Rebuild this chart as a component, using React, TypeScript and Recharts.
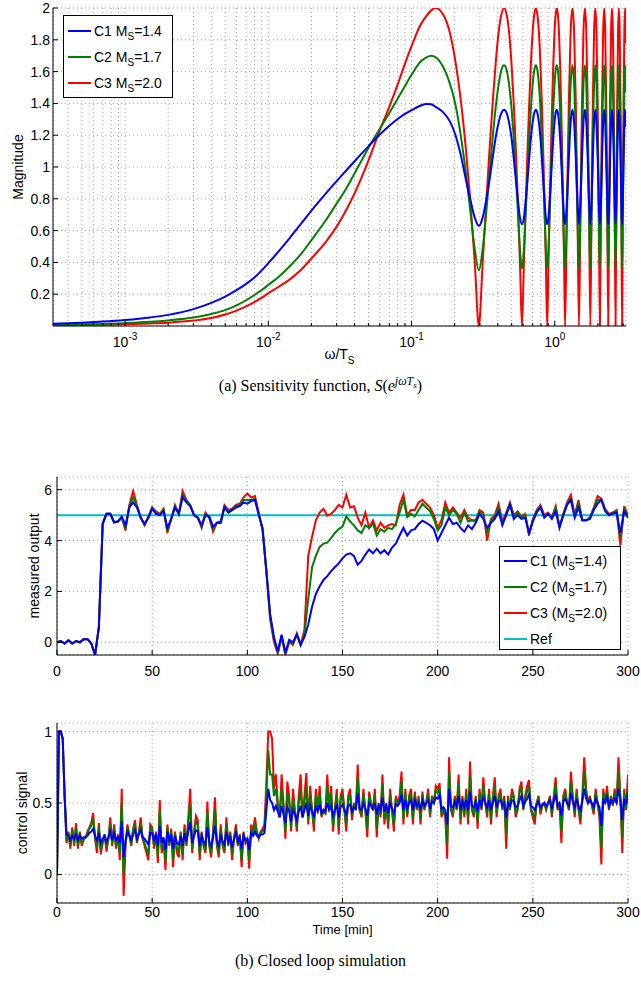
import React from 'react';
import { LineChart, Line, XAxis, YAxis, CartesianGrid, ReferenceLine, Legend } from 'recharts';

const FONT = '"Liberation Sans", Arial, Helvetica, sans-serif';
const SERIF = '"Liberation Serif", "Times New Roman", serif';
const BLUE = '#0000ff';
const GREEN = '#008000';
const RED = '#ff0000';
const CYAN = '#00bfbf';
const GRID = '#a8a8a8';

// ---------- (a) Sensitivity function ----------
const omega = [
  0.000314, 0.0005, 0.0007, 0.001, 0.0015, 0.002, 0.003, 0.004, 0.005, 0.006,
  0.007, 0.008, 0.009, 0.01, 0.012, 0.014, 0.017, 0.02, 0.025, 0.03, 0.035,
  0.04, 0.05, 0.06, 0.07, 0.08, 0.09, 0.1, 0.115, 0.127, 0.137,
  0.1475,
  0.1659, 0.1844, 0.2028, 0.2213, 0.2397, 0.2581, 0.2766, 0.295,
  0.3134, 0.3319, 0.3503, 0.3688, 0.3872, 0.4056, 0.4241, 0.4425,
  0.4609, 0.4794, 0.4978, 0.5163, 0.5347, 0.5531, 0.5716, 0.59,
  0.6084, 0.6269, 0.6453, 0.6638, 0.6822, 0.7006, 0.7191, 0.7375,
  0.7559, 0.7744, 0.7928, 0.8113, 0.8297, 0.8481, 0.8666, 0.885,
  0.9034, 0.9219, 0.9403, 0.9588, 0.9772, 0.9956, 1.0141, 1.0325,
  1.0509, 1.0694, 1.0878, 1.1063, 1.1247, 1.1431, 1.1616, 1.18,
  1.2169, 1.2538, 1.2906, 1.3275, 1.3644, 1.4013, 1.4381, 1.475,
  1.5119, 1.5488, 1.5856, 1.6225, 1.6594, 1.6963, 1.7331, 1.77,
  1.8069, 1.8438, 1.8806, 1.9175, 1.9544, 1.9913, 2.0281, 2.065,
  2.1019, 2.1388, 2.1756, 2.2125, 2.2494, 2.2863, 2.3231, 2.36,
  2.3969, 2.4338, 2.4706, 2.5075, 2.5444, 2.5813, 2.6181, 2.655,
  2.6919, 2.7288, 2.7656, 2.8025, 2.8394, 2.8763, 2.9131, 2.95,
  2.9869, 3.0238, 3.0606, 3.0975, 3.1344, 3.1416,
];

const sensC1 = [
  0.014, 0.021, 0.028, 0.038, 0.054, 0.07, 0.106, 0.145, 0.185, 0.225,
  0.265, 0.305, 0.35, 0.395, 0.477, 0.55, 0.645, 0.726, 0.83, 0.911, 0.978,
  1.036, 1.13, 1.204, 1.26, 1.302, 1.334, 1.357, 1.385, 1.397, 1.395,
  1.378,
  1.345, 1.29, 1.2, 1.07, 0.92, 0.79, 0.68, 0.63,
  0.68, 0.79, 0.92, 1.06, 1.19, 1.28, 1.34, 1.36,
  1.34, 1.28, 1.19, 1.06, 0.92, 0.79, 0.68, 0.64,
  0.68, 0.79, 0.92, 1.06, 1.19, 1.28, 1.34, 1.36,
  1.34, 1.28, 1.19, 1.06, 0.92, 0.79, 0.68, 0.64,
  0.68, 0.79, 0.92, 1.06, 1.19, 1.28, 1.34, 1.36,
  1.34, 1.28, 1.19, 1.06, 0.92, 0.79, 0.68, 0.64,
  0.79, 1.06, 1.28, 1.36, 1.28, 1.06, 0.79, 0.64,
  0.79, 1.06, 1.28, 1.36, 1.28, 1.06, 0.79, 0.64,
  0.79, 1.06, 1.28, 1.36, 1.28, 1.06, 0.79, 0.64,
  0.79, 1.06, 1.28, 1.36, 1.28, 1.06, 0.79, 0.64,
  0.79, 1.06, 1.28, 1.36, 1.28, 1.06, 0.79, 0.64,
  0.79, 1.06, 1.28, 1.36, 1.28, 1.06, 0.79, 0.64,
  0.79, 1.06, 1.28, 1.36, 1.28, 1.25,
];

const sensC2 = [
  0.007, 0.01, 0.013, 0.018, 0.026, 0.035, 0.053, 0.076, 0.1, 0.13,
  0.162, 0.195, 0.226, 0.258, 0.315, 0.373, 0.455, 0.54, 0.66, 0.77, 0.865,
  0.96, 1.12, 1.24, 1.34, 1.43, 1.51, 1.58, 1.66, 1.69, 1.7,
  1.69,
  1.63, 1.53, 1.39, 1.19, 0.96, 0.71, 0.48, 0.35,
  0.48, 0.71, 0.96, 1.19, 1.38, 1.52, 1.61, 1.64,
  1.61, 1.52, 1.38, 1.19, 0.96, 0.71, 0.48, 0.36,
  0.48, 0.71, 0.96, 1.19, 1.38, 1.52, 1.61, 1.64,
  1.61, 1.52, 1.38, 1.19, 0.96, 0.71, 0.48, 0.36,
  0.48, 0.71, 0.96, 1.19, 1.38, 1.52, 1.61, 1.64,
  1.61, 1.52, 1.38, 1.19, 0.96, 0.71, 0.48, 0.36,
  0.71, 1.19, 1.52, 1.64, 1.52, 1.19, 0.71, 0.36,
  0.71, 1.19, 1.52, 1.64, 1.52, 1.19, 0.71, 0.36,
  0.71, 1.19, 1.52, 1.64, 1.52, 1.19, 0.71, 0.36,
  0.71, 1.19, 1.52, 1.64, 1.52, 1.19, 0.71, 0.36,
  0.71, 1.19, 1.52, 1.64, 1.52, 1.19, 0.71, 0.36,
  0.71, 1.19, 1.52, 1.64, 1.52, 1.19, 0.71, 0.36,
  0.71, 1.19, 1.52, 1.64, 1.52, 1.47,
];

const sensC3 = [
  0.004, 0.006, 0.008, 0.011, 0.016, 0.021, 0.034, 0.05, 0.072, 0.097,
  0.123, 0.15, 0.178, 0.207, 0.25, 0.29, 0.355, 0.425, 0.525, 0.625, 0.73,
  0.834, 1.04, 1.23, 1.38, 1.52, 1.65, 1.76, 1.89, 1.95, 1.985,
  2.0,
  1.96, 1.85, 1.66, 1.41, 1.11, 0.77, 0.39, 0,
  0.39, 0.77, 1.11, 1.41, 1.66, 1.85, 1.96, 2.0,
  1.96, 1.85, 1.66, 1.41, 1.11, 0.77, 0.39, 0,
  0.39, 0.77, 1.11, 1.41, 1.66, 1.85, 1.96, 2.0,
  1.96, 1.85, 1.66, 1.41, 1.11, 0.77, 0.39, 0,
  0.39, 0.77, 1.11, 1.41, 1.66, 1.85, 1.96, 2.0,
  1.96, 1.85, 1.66, 1.41, 1.11, 0.77, 0.39, 0,
  0.77, 1.41, 1.85, 2.0, 1.85, 1.41, 0.77, 0,
  0.77, 1.41, 1.85, 2.0, 1.85, 1.41, 0.77, 0,
  0.77, 1.41, 1.85, 2.0, 1.85, 1.41, 0.77, 0,
  0.77, 1.41, 1.85, 2.0, 1.85, 1.41, 0.77, 0,
  0.77, 1.41, 1.85, 2.0, 1.85, 1.41, 0.77, 0,
  0.77, 1.41, 1.85, 2.0, 1.85, 1.41, 0.77, 0,
  0.77, 1.41, 1.85, 2.0, 1.85, 1.78,
];

const freqDomain = [0.000314, 3.1416];
const freqTicks = [
  0.0004, 0.0005, 0.0006, 0.0007, 0.0008, 0.0009,
  0.001, 0.002, 0.003, 0.004, 0.005, 0.006, 0.007, 0.008, 0.009,
  0.01, 0.02, 0.03, 0.04, 0.05, 0.06, 0.07, 0.08, 0.09,
  0.1, 0.2, 0.3, 0.4, 0.5, 0.6, 0.7, 0.8, 0.9,
  1, 2, 3,
];
const magTicks = [0.2, 0.4, 0.6, 0.8, 1, 1.2, 1.4, 1.6, 1.8, 2];

const sensLegend = [
  { name: 'C1', ms: '1.4', color: BLUE },
  { name: 'C2', ms: '1.7', color: GREEN },
  { name: 'C3', ms: '2.0', color: RED },
];

// ---------- (b) Closed loop simulation: measured output ----------
const timeMin = [
  0, 2, 4, 6, 8, 10, 12, 14, 16, 18,
  20, 22, 24, 26, 28, 30, 32, 34, 36, 38,
  40, 42, 44, 46, 48, 50, 52, 54, 56, 58,
  60, 62, 64, 66, 68, 70, 72, 74, 76, 78,
  80, 82, 84, 86, 88, 90, 92, 94, 96, 98,
  100, 102, 104, 106, 108, 110, 112, 114, 116, 118,
  120, 122, 124, 126, 128, 130, 132, 134, 136, 138,
  140, 142, 144, 146, 148, 150, 152, 154, 156, 158,
  160, 162, 164, 166, 168, 170, 172, 174, 176, 178,
  180, 182, 184, 186, 188, 190, 192, 194, 196, 198,
  200, 202, 204, 206, 208, 210, 212, 214, 216, 218,
  220, 222, 224, 226, 228, 230, 232, 234, 236, 238,
  240, 242, 244, 246, 248, 250, 252, 254, 256, 258,
  260, 262, 264, 266, 268, 270, 272, 274, 276, 278,
  280, 282, 284, 286, 288, 290, 292, 294, 296, 298,
  300,
];

const outC1 = [
  0, 0.05, -0.05, 0.08, -0.05, 0.05, 0.0, 0.12, 0.13, -0.05,
  -0.5, 0.6, 4.66, 5.05, 5.05, 4.72, 4.75, 4.95, 4.6, 5.3,
  5.5, 5.3, 4.9, 4.66, 4.9, 5.25, 5.05, 5.0, 5.15, 4.5,
  4.85, 5.3, 5.05, 5.7, 5.5, 5.35, 5.0, 4.9, 4.6, 5.0,
  4.95, 4.55, 4.7, 4.7, 5.3, 5.1, 5.2, 5.3, 5.35, 5.5,
  5.45, 5.55, 5.6, 5.0, 4.5, 2.8, 1.1, 0.2, -0.35, 0.3,
  -0.4, 0.1, 0.0, 0.3, -0.1, 0.2, 0.7, 1.4, 1.9, 2.2,
  2.45, 2.6, 2.8, 2.95, 3.1, 3.3, 3.45, 3.5, 3.4, 3.05,
  3.2, 3.45, 3.65, 3.5, 3.68, 3.5, 3.62, 3.45, 3.72, 3.88,
  4.2, 4.5, 4.2, 4.4, 4.45, 4.65, 4.78, 4.7, 4.6, 4.45,
  4.0, 4.3, 4.6, 4.9, 4.65, 4.7, 4.5, 4.35, 4.6, 4.45,
  4.7, 5.05, 4.85, 4.5, 4.7, 4.85, 5.15, 4.6, 5.0, 5.4,
  4.85, 5.0, 4.85, 4.9, 4.3, 4.75, 5.1, 5.3, 4.9, 5.05,
  4.85, 5.15, 4.5, 5.0, 5.4, 5.6, 4.9, 5.3, 4.8, 4.8,
  4.85, 5.2, 5.45, 5.6, 5.15, 5.0, 5.05, 5.1, 4.3, 5.15,
  4.9,
];

const outC2 = [
  0, 0.05, -0.05, 0.08, -0.05, 0.05, 0.0, 0.12, 0.13, -0.05,
  -0.5, 0.6, 4.66, 5.05, 5.05, 4.72, 4.75, 4.9, 4.5, 5.35,
  5.7, 5.35, 4.9, 4.62, 4.9, 5.3, 5.1, 5.0, 5.2, 4.4,
  4.85, 5.35, 5.05, 5.8, 5.55, 5.4, 5.0, 4.9, 4.55, 5.05,
  4.9, 4.45, 4.7, 4.7, 5.35, 5.15, 5.2, 5.35, 5.4, 5.6,
  5.6, 5.6, 5.65, 5.05, 4.45, 2.8, 1.0, 0.1, -0.4, 0.25,
  -0.45, 0.05, -0.05, 0.3, -0.1, 0.3, 1.7, 2.95, 3.4, 3.75,
  3.88, 3.92, 4.1, 4.3, 4.45, 4.55, 4.95, 4.75, 4.6, 4.4,
  4.3, 4.6, 4.5, 4.66, 4.2, 4.45, 4.35, 4.5, 4.45, 4.65,
  5.1, 5.6, 4.92, 5.05, 4.95, 5.2, 5.45, 5.3, 5.15, 4.85,
  4.4, 4.6, 5.3, 5.0, 5.2, 5.05, 4.7, 5.1, 4.75, 4.8,
  4.75, 5.15, 5.0, 4.3, 4.8, 4.95, 5.3, 4.7, 5.05, 5.45,
  4.95, 5.1, 4.9, 5.0, 4.25, 4.8, 5.15, 5.35, 4.95, 5.05,
  4.9, 5.3, 4.55, 5.0, 5.45, 5.65, 4.95, 5.5, 4.8, 4.8,
  4.9, 5.25, 5.6, 5.6, 5.2, 5.0, 5.1, 5.15, 4.1, 5.25,
  5.0,
];

const outC3 = [
  0, 0.05, -0.05, 0.08, -0.05, 0.05, 0.0, 0.12, 0.13, -0.05,
  -0.5, 0.6, 4.66, 5.05, 5.05, 4.72, 4.75, 4.9, 4.4, 5.4,
  5.95, 5.4, 4.9, 4.6, 4.95, 5.3, 5.15, 5.05, 5.25, 4.3,
  4.85, 5.4, 5.05, 5.95, 5.6, 5.4, 5.0, 4.9, 4.5, 5.1,
  4.9, 4.35, 4.7, 4.75, 5.4, 5.2, 5.25, 5.4, 5.45, 5.7,
  5.85, 5.7, 5.75, 5.1, 4.4, 2.8, 0.9, 0.0, -0.45, 0.2,
  -0.5, 0.0, -0.1, 0.35, -0.1, 0.5, 3.4, 4.15, 4.8, 5.1,
  5.25, 4.98, 5.05, 5.2, 5.4, 5.3, 5.8, 5.3, 5.35, 4.9,
  4.6, 5.1, 4.5, 4.8, 4.4, 4.7, 4.5, 4.6, 4.65, 4.6,
  5.4, 5.8, 5.0, 5.2, 5.2, 5.5, 5.6, 5.45, 5.3, 5.0,
  4.5, 4.8, 5.5, 5.1, 5.3, 5.1, 4.9, 5.2, 4.9, 4.8,
  4.8, 5.2, 5.1, 4.0, 4.85, 5.0, 5.45, 4.75, 5.1, 5.5,
  5.0, 5.15, 4.95, 5.05, 4.2, 4.85, 5.2, 5.4, 5.0, 5.1,
  4.9, 5.35, 4.55, 5.05, 5.5, 5.8, 5.0, 5.6, 4.8, 4.8,
  4.9, 5.3, 5.75, 5.65, 5.25, 5.05, 5.1, 5.2, 3.8, 5.35,
  5.0,
];

const refLevel = 5;

// ---------- (b) Closed loop simulation: control signal (1 min samples) ----------
const timeCtrl = [
  0, 1, 2, 3, 4, 5, 6, 7, 8, 9, 10, 11, 12, 13, 14, 15, 16, 17, 18, 19,
  20, 21, 22, 23, 24, 25, 26, 27, 28, 29, 30, 31, 32, 33, 34, 35, 36, 37, 38, 39,
  40, 41, 42, 43, 44, 45, 46, 47, 48, 49, 50, 51, 52, 53, 54, 55, 56, 57, 58, 59,
  60, 61, 62, 63, 64, 65, 66, 67, 68, 69, 70, 71, 72, 73, 74, 75, 76, 77, 78, 79,
  80, 81, 82, 83, 84, 85, 86, 87, 88, 89, 90, 91, 92, 93, 94, 95, 96, 97, 98, 99,
  100, 101, 102, 103, 104, 105, 106, 107, 108, 109, 110, 111, 112, 113, 114, 115, 116, 117, 118, 119,
  120, 121, 122, 123, 124, 125, 126, 127, 128, 129, 130, 131, 132, 133, 134, 135, 136, 137, 138, 139,
  140, 141, 142, 143, 144, 145, 146, 147, 148, 149, 150, 151, 152, 153, 154, 155, 156, 157, 158, 159,
  160, 161, 162, 163, 164, 165, 166, 167, 168, 169, 170, 171, 172, 173, 174, 175, 176, 177, 178, 179,
  180, 181, 182, 183, 184, 185, 186, 187, 188, 189, 190, 191, 192, 193, 194, 195, 196, 197, 198, 199,
  200, 201, 202, 203, 204, 205, 206, 207, 208, 209, 210, 211, 212, 213, 214, 215, 216, 217, 218, 219,
  220, 221, 222, 223, 224, 225, 226, 227, 228, 229, 230, 231, 232, 233, 234, 235, 236, 237, 238, 239,
  240, 241, 242, 243, 244, 245, 246, 247, 248, 249, 250, 251, 252, 253, 254, 255, 256, 257, 258, 259,
  260, 261, 262, 263, 264, 265, 266, 267, 268, 269, 270, 271, 272, 273, 274, 275, 276, 277, 278, 279,
  280, 281, 282, 283, 284, 285, 286, 287, 288, 289, 290, 291, 292, 293, 294, 295, 296, 297, 298, 299,
  300,
];

const ctrlC1 = [
  0, 1.0, 1.0, 0.95, 0.55, 0.28, 0.27, 0.24, 0.27, 0.25,
  0.28, 0.24, 0.27, 0.25, 0.26, 0.26, 0.27, 0.29, 0.3, 0.32,
  0.27, 0.24, 0.29, 0.22, 0.25, 0.27, 0.23, 0.26, 0.3, 0.24,
  0.29, 0.24, 0.26, 0.22, 0.37, 0.12, 0.24, 0.3, 0.27, 0.24,
  0.28, 0.31, 0.25, 0.28, 0.31, 0.26, 0.25, 0.23, 0.21, 0.29,
  0.29, 0.24, 0.28, 0.2, 0.34, 0.22, 0.26, 0.17, 0.3, 0.23,
  0.28, 0.18, 0.27, 0.22, 0.21, 0.27, 0.2, 0.29, 0.23, 0.3,
  0.37, 0.22, 0.27, 0.31, 0.3, 0.2, 0.27, 0.23, 0.21, 0.33,
  0.23, 0.2, 0.26, 0.34, 0.23, 0.2, 0.28, 0.23, 0.21, 0.3,
  0.23, 0.27, 0.19, 0.25, 0.29, 0.23, 0.26, 0.18, 0.27, 0.24,
  0.25, 0.17, 0.29, 0.27, 0.3, 0.27, 0.26, 0.28, 0.28, 0.29,
  0.45, 0.6, 0.52, 0.5, 0.45, 0.48, 0.44, 0.4, 0.48, 0.42,
  0.36, 0.47, 0.44, 0.37, 0.45, 0.42, 0.38, 0.44, 0.48, 0.4,
  0.45, 0.5, 0.41, 0.48, 0.44, 0.4, 0.48, 0.44, 0.49, 0.43,
  0.45, 0.44, 0.5, 0.45, 0.48, 0.41, 0.45, 0.49, 0.4, 0.47,
  0.49, 0.45, 0.42, 0.48, 0.49, 0.44, 0.47, 0.46, 0.57, 0.46,
  0.45, 0.5, 0.46, 0.41, 0.5, 0.48, 0.46, 0.5, 0.42, 0.48,
  0.45, 0.54, 0.44, 0.48, 0.43, 0.5, 0.46, 0.43, 0.49, 0.48,
  0.5, 0.56, 0.45, 0.52, 0.46, 0.5, 0.52, 0.45, 0.52, 0.48,
  0.5, 0.45, 0.52, 0.48, 0.5, 0.52, 0.46, 0.51, 0.5, 0.54,
  0.53, 0.56, 0.46, 0.47, 0.45, 0.35, 0.6, 0.48, 0.47, 0.51,
  0.48, 0.55, 0.45, 0.51, 0.47, 0.52, 0.45, 0.58, 0.48, 0.47,
  0.51, 0.44, 0.52, 0.48, 0.55, 0.5, 0.47, 0.52, 0.45, 0.5,
  0.55, 0.47, 0.51, 0.52, 0.48, 0.5, 0.4, 0.5, 0.48, 0.52,
  0.51, 0.47, 0.48, 0.52, 0.55, 0.48, 0.51, 0.53, 0.56, 0.48,
  0.47, 0.45, 0.49, 0.51, 0.47, 0.49, 0.5, 0.48, 0.5, 0.52,
  0.46, 0.51, 0.56, 0.48, 0.5, 0.41, 0.51, 0.53, 0.5, 0.48,
  0.57, 0.51, 0.47, 0.53, 0.48, 0.45, 0.51, 0.6, 0.53, 0.5,
  0.52, 0.5, 0.47, 0.53, 0.5, 0.47, 0.34, 0.53, 0.5, 0.54,
  0.48, 0.52, 0.5, 0.53, 0.5, 0.6, 0.52, 0.38, 0.53, 0.49,
  0.57,
];

const ctrlC2 = [
  0, 1.0, 1.0, 0.95, 0.55, 0.24, 0.29, 0.2, 0.31, 0.22,
  0.33, 0.2, 0.29, 0.22, 0.25, 0.26, 0.29, 0.32, 0.34, 0.39,
  0.26, 0.19, 0.33, 0.17, 0.23, 0.28, 0.19, 0.25, 0.36, 0.21,
  0.33, 0.2, 0.27, 0.15, 0.5, 0.0, 0.21, 0.33, 0.28, 0.21,
  0.31, 0.35, 0.23, 0.29, 0.36, 0.25, 0.22, 0.18, 0.14, 0.33,
  0.31, 0.2, 0.29, 0.13, 0.45, 0.18, 0.25, 0.09, 0.33, 0.21,
  0.3, 0.1, 0.29, 0.18, 0.16, 0.29, 0.14, 0.32, 0.21, 0.36,
  0.5, 0.18, 0.29, 0.37, 0.35, 0.14, 0.29, 0.21, 0.17, 0.44,
  0.21, 0.15, 0.28, 0.46, 0.21, 0.15, 0.32, 0.21, 0.17, 0.36,
  0.21, 0.29, 0.14, 0.25, 0.32, 0.21, 0.27, 0.1, 0.29, 0.23,
  0.25, 0.1, 0.32, 0.29, 0.36, 0.29, 0.26, 0.29, 0.3, 0.32,
  0.55, 0.87, 0.7, 0.7, 0.55, 0.6, 0.48, 0.4, 0.6, 0.47,
  0.3, 0.57, 0.5, 0.33, 0.53, 0.44, 0.33, 0.5, 0.6, 0.4,
  0.5, 0.62, 0.38, 0.56, 0.45, 0.35, 0.55, 0.45, 0.57, 0.41,
  0.45, 0.43, 0.62, 0.45, 0.57, 0.34, 0.45, 0.56, 0.33, 0.52,
  0.56, 0.45, 0.35, 0.52, 0.56, 0.41, 0.49, 0.45, 0.68, 0.45,
  0.42, 0.56, 0.45, 0.32, 0.55, 0.49, 0.45, 0.56, 0.32, 0.49,
  0.42, 0.63, 0.39, 0.49, 0.36, 0.56, 0.45, 0.35, 0.53, 0.49,
  0.53, 0.65, 0.39, 0.57, 0.42, 0.53, 0.57, 0.39, 0.56, 0.46,
  0.53, 0.39, 0.56, 0.46, 0.5, 0.57, 0.42, 0.53, 0.5, 0.59,
  0.57, 0.61, 0.42, 0.46, 0.42, 0.22, 0.72, 0.46, 0.42, 0.53,
  0.46, 0.64, 0.39, 0.53, 0.42, 0.57, 0.39, 0.69, 0.46, 0.42,
  0.53, 0.37, 0.57, 0.46, 0.62, 0.5, 0.43, 0.57, 0.39, 0.53,
  0.62, 0.43, 0.53, 0.57, 0.46, 0.53, 0.28, 0.53, 0.46, 0.57,
  0.53, 0.43, 0.46, 0.57, 0.61, 0.46, 0.53, 0.58, 0.62, 0.46,
  0.43, 0.39, 0.5, 0.53, 0.44, 0.48, 0.5, 0.46, 0.5, 0.53,
  0.42, 0.53, 0.63, 0.46, 0.5, 0.3, 0.53, 0.57, 0.5, 0.46,
  0.65, 0.53, 0.43, 0.57, 0.46, 0.39, 0.53, 0.72, 0.57, 0.5,
  0.53, 0.49, 0.44, 0.57, 0.5, 0.43, 0.19, 0.57, 0.5, 0.58,
  0.46, 0.53, 0.49, 0.57, 0.5, 0.72, 0.53, 0.26, 0.57, 0.46,
  0.64,
];

const ctrlC3 = [
  0, 1.0, 1.0, 0.95, 0.55, 0.22, 0.3, 0.18, 0.33, 0.2,
  0.36, 0.18, 0.3, 0.2, 0.24, 0.26, 0.3, 0.33, 0.36, 0.43,
  0.25, 0.15, 0.36, 0.14, 0.22, 0.28, 0.16, 0.25, 0.4, 0.2,
  0.35, 0.18, 0.28, 0.1, 0.6, -0.15, 0.2, 0.35, 0.28, 0.2,
  0.32, 0.38, 0.22, 0.3, 0.4, 0.25, 0.2, 0.15, 0.1, 0.35,
  0.33, 0.18, 0.3, 0.08, 0.52, 0.15, 0.25, 0.03, 0.35, 0.2,
  0.32, 0.05, 0.3, 0.15, 0.12, 0.3, 0.1, 0.35, 0.2, 0.4,
  0.6, 0.15, 0.3, 0.41, 0.38, 0.1, 0.3, 0.2, 0.15, 0.51,
  0.2, 0.12, 0.3, 0.54, 0.2, 0.12, 0.35, 0.2, 0.15, 0.4,
  0.2, 0.3, 0.1, 0.25, 0.35, 0.2, 0.28, 0.05, 0.3, 0.22,
  0.25, 0.04, 0.35, 0.3, 0.4, 0.3, 0.25, 0.3, 0.32, 0.35,
  0.65, 1.0, 1.0, 0.95, 0.6, 0.7, 0.5, 0.4, 0.7, 0.5,
  0.25, 0.65, 0.55, 0.3, 0.6, 0.45, 0.3, 0.55, 0.7, 0.4,
  0.55, 0.71, 0.35, 0.62, 0.45, 0.3, 0.6, 0.45, 0.62, 0.4,
  0.45, 0.42, 0.7, 0.45, 0.62, 0.3, 0.45, 0.6, 0.28, 0.55,
  0.6, 0.45, 0.3, 0.55, 0.6, 0.38, 0.5, 0.45, 0.77, 0.45,
  0.4, 0.6, 0.45, 0.26, 0.58, 0.5, 0.45, 0.6, 0.26, 0.5,
  0.4, 0.7, 0.35, 0.5, 0.32, 0.6, 0.45, 0.3, 0.55, 0.5,
  0.55, 0.72, 0.35, 0.6, 0.4, 0.55, 0.6, 0.35, 0.58, 0.45,
  0.55, 0.35, 0.58, 0.45, 0.5, 0.6, 0.4, 0.55, 0.5, 0.62,
  0.6, 0.64, 0.4, 0.45, 0.4, 0.11, 0.82, 0.45, 0.4, 0.55,
  0.45, 0.7, 0.35, 0.55, 0.4, 0.6, 0.35, 0.79, 0.45, 0.4,
  0.55, 0.32, 0.6, 0.45, 0.68, 0.5, 0.4, 0.6, 0.35, 0.55,
  0.68, 0.4, 0.55, 0.6, 0.45, 0.55, 0.18, 0.55, 0.45, 0.6,
  0.55, 0.4, 0.45, 0.6, 0.65, 0.45, 0.55, 0.62, 0.66, 0.45,
  0.4, 0.35, 0.5, 0.55, 0.42, 0.48, 0.5, 0.45, 0.5, 0.55,
  0.4, 0.55, 0.68, 0.45, 0.5, 0.22, 0.55, 0.6, 0.5, 0.45,
  0.72, 0.55, 0.4, 0.6, 0.45, 0.35, 0.55, 0.82, 0.6, 0.5,
  0.55, 0.48, 0.42, 0.6, 0.5, 0.4, 0.07, 0.6, 0.5, 0.62,
  0.45, 0.55, 0.48, 0.6, 0.5, 0.82, 0.55, 0.15, 0.6, 0.45,
  0.7,
];

const timeTicks = [0, 50, 100, 150, 200, 250, 300];
const outTicks = [0, 2, 4, 6];
const ctrlTicks = [0, 0.5, 1];

const simLegend = [
  { name: 'C1', ms: '1.4', color: BLUE },
  { name: 'C2', ms: '1.7', color: GREEN },
  { name: 'C3', ms: '2.0', color: RED },
];

// ---------- assembled tables ----------
const sensData = omega.map((w, i) => ({ w, c1: sensC1[i], c2: sensC2[i], c3: sensC3[i] }));
const outData = timeMin.map((t, i) => ({ t, c1: outC1[i], c2: outC2[i], c3: outC3[i] }));
const ctrlData = timeCtrl.map((t, i) => ({ t, c1: ctrlC1[i], c2: ctrlC2[i], c3: ctrlC3[i] }));

// ---------- tick helpers ----------
type TickOpts = {
  isMajor?: (v: number) => boolean;
  label?: (v: number) => React.ReactNode;
  fontSize?: number;
  dy?: number;
  dx?: number;
  len?: number;
  minorLen?: number;
};

const isDecade = (v: number) => Math.abs(Math.log10(v) - Math.round(Math.log10(v))) < 1e-9;

const bottomTick = (o: TickOpts) => (p: any) => {
  const v = p.payload.value;
  const major = o.isMajor ? o.isMajor(v) : true;
  const len = major ? o.len ?? 5 : o.minorLen ?? 3;
  return (
    <g>
      <line x1={p.x} x2={p.x} y1={p.y} y2={p.y - len} stroke="#000" strokeWidth={1} />
      {major && o.label ? (
        <text x={p.x} y={p.y + (o.dy ?? 20)} textAnchor="middle" fontSize={o.fontSize} fontFamily={FONT} fill="#000">
          {o.label(v)}
        </text>
      ) : null}
    </g>
  );
};

const topTick = (o: TickOpts) => (p: any) => {
  const v = p.payload.value;
  const major = o.isMajor ? o.isMajor(v) : true;
  const len = major ? o.len ?? 5 : o.minorLen ?? 3;
  return <line x1={p.x} x2={p.x} y1={p.y} y2={p.y + len} stroke="#000" strokeWidth={1} />;
};

const leftTick = (o: TickOpts) => (p: any) => {
  const v = p.payload.value;
  return (
    <g>
      <line x1={p.x} x2={p.x + (o.len ?? 5)} y1={p.y} y2={p.y} stroke="#000" strokeWidth={1} />
      {o.label ? (
        <text x={p.x - (o.dx ?? 4)} y={p.y + (o.dy ?? 5)} textAnchor="end" fontSize={o.fontSize} fontFamily={FONT} fill="#000">
          {o.label(v)}
        </text>
      ) : null}
    </g>
  );
};

const rightTick = (o: TickOpts) => (p: any) => (
  <line x1={p.x} x2={p.x - (o.len ?? 5)} y1={p.y} y2={p.y} stroke="#000" strokeWidth={1} />
);

const decadeLabel = (v: number) => {
  const e = Math.round(Math.log10(v));
  return (
    <>
      <tspan>10</tspan>
      <tspan dy={-7} fontSize={10}>{String(e)}</tspan>
    </>
  );
};

const yLabel = (text: string, cx: number, fontSize: number) => (props: any) => {
  const vb = props.viewBox;
  const cy = vb.y + vb.height / 2;
  return (
    <text
      x={cx}
      y={cy}
      transform={`rotate(-90, ${cx}, ${cy})`}
      textAnchor="middle"
      dominantBaseline="central"
      fontSize={fontSize}
      fontFamily={FONT}
      fill="#000"
    >
      {text}
    </text>
  );
};

// ---------- legends ----------
const SensLegendBox = () => (
  <div
    style={{
      border: '1px solid #000',
      background: '#fff',
      width: 110,
      height: 83,
      boxSizing: 'border-box',
      fontFamily: FONT,
      fontSize: 14,
      padding: '2px 0 0 4px',
    }}
  >
    {sensLegend.map((it) => (
      <div key={it.name} style={{ display: 'flex', alignItems: 'center', height: 26 }}>
        <div style={{ width: 23, height: 2, background: it.color, marginRight: 3 }} />
        <span style={{ whiteSpace: 'nowrap' }}>
          {it.name} M<span style={{ fontSize: 10, position: 'relative', top: 4 }}>S</span>={it.ms}
        </span>
      </div>
    ))}
  </div>
);

const SimLegendBox = () => (
  <div
    style={{
      border: '1px solid #000',
      background: '#fff',
      width: 122,
      height: 104,
      boxSizing: 'border-box',
      fontFamily: FONT,
      fontSize: 14,
      padding: '1px 0 0 4px',
    }}
  >
    {simLegend.map((it) => (
      <div key={it.name} style={{ display: 'flex', alignItems: 'center', height: 26 }}>
        <div style={{ width: 23, height: 2, background: it.color, marginRight: 3 }} />
        <span style={{ whiteSpace: 'nowrap' }}>
          {it.name} (M<span style={{ fontSize: 10, position: 'relative', top: 4 }}>S</span>={it.ms})
        </span>
      </div>
    ))}
    <div style={{ display: 'flex', alignItems: 'center', height: 26 }}>
      <div style={{ width: 23, height: 2, background: CYAN, marginRight: 3 }} />
      <span>Ref</span>
    </div>
  </div>
);

const TICK_FS = 14;

export default function App() {
  return (
    <div style={{ position: 'absolute', left: 0, top: 0, width: 641, height: 993, background: '#fff', overflow: 'hidden' }}>
      {/* ---- (a) ---- */}
      <div style={{ position: 'absolute', left: 0, top: 0 }}>
        <LineChart width={641} height={366} data={sensData} margin={{ top: 8, right: 15, bottom: 0, left: 0 }}>
          <CartesianGrid stroke={GRID} strokeDasharray="1 3" />
          <XAxis
            dataKey="w"
            type="number"
            scale="log"
            domain={freqDomain}
            allowDataOverflow
            ticks={freqTicks}
            interval={0}
            tickSize={0}
            tickMargin={0}
            tickLine={false}
            axisLine={{ stroke: '#000' }}
            height={40}
            tick={bottomTick({ isMajor: isDecade, label: decadeLabel, fontSize: TICK_FS, dy: 21, len: 5, minorLen: 3 })}
            label={(props: any) => {
              const vb = props.viewBox;
              const cx = vb.x + vb.width / 2;
              return (
                <text x={cx} y={vb.y + 33} textAnchor="middle" fontSize={TICK_FS} fontFamily={FONT} fill="#000">
                  <tspan>ω/T</tspan>
                  <tspan dy={5} fontSize={10}>S</tspan>
                </text>
              );
            }}
          />
          <XAxis
            xAxisId="top"
            orientation="top"
            type="number"
            scale="log"
            domain={freqDomain}
            allowDataOverflow
            ticks={freqTicks}
            interval={0}
            tickSize={0}
            tickMargin={0}
            tickLine={false}
            axisLine={{ stroke: '#000' }}
            height={0}
            tick={topTick({ isMajor: isDecade, len: 5, minorLen: 3 })}
          />
          <YAxis
            type="number"
            domain={[0, 2]}
            allowDataOverflow
            ticks={magTicks}
            interval={0}
            width={53}
            tickSize={0}
            tickMargin={0}
            tickLine={false}
            axisLine={{ stroke: '#000' }}
            tick={leftTick({ label: (v) => String(v), fontSize: TICK_FS, dx: 3, dy: 5 })}
            label={yLabel('Magnitude', 18, 14)}
          />
          <YAxis
            yAxisId="right"
            orientation="right"
            type="number"
            domain={[0, 2]}
            allowDataOverflow
            ticks={magTicks}
            interval={0}
            width={0}
            tickSize={0}
            tickMargin={0}
            tickLine={false}
            axisLine={{ stroke: '#000' }}
            tick={rightTick({})}
          />
          <Line type="monotone" dataKey="c3" stroke={RED} strokeWidth={2} dot={false} isAnimationActive={false} />
          <Line type="monotone" dataKey="c2" stroke={GREEN} strokeWidth={2} dot={false} isAnimationActive={false} />
          <Line type="monotone" dataKey="c1" stroke={BLUE} strokeWidth={2} dot={false} isAnimationActive={false} />
          <Legend
            layout="vertical"
            align="center"
            verticalAlign="middle"
            content={() => <SensLegendBox />}
            wrapperStyle={{ left: 63, top: 15, width: 110, height: 83 }}
          />
        </LineChart>
      </div>
      <div
        style={{
          position: 'absolute',
          left: 0,
          top: 371,
          width: 641,
          textAlign: 'center',
          fontFamily: SERIF,
          fontSize: 16,
          lineHeight: '20px',
        }}
      >
        (a) Sensitivity function, <i>S</i>(<i>e</i>
        <sup style={{ fontSize: 12 }}>
          <i>jωT</i>
          <sub style={{ fontSize: 9 }}>
            <i>s</i>
          </sub>
        </sup>
        )
      </div>

      {/* ---- (b) top: measured output ---- */}
      <div style={{ position: 'absolute', left: 0, top: 460 }}>
        <LineChart width={641} height={220} data={outData} margin={{ top: 17, right: 13, bottom: 0, left: 0 }}>
          <CartesianGrid stroke={GRID} strokeDasharray="1 3" />
          <XAxis
            dataKey="t"
            type="number"
            domain={[0, 300]}
            allowDataOverflow
            ticks={timeTicks}
            interval={0}
            tickSize={0}
            tickMargin={0}
            tickLine={false}
            axisLine={{ stroke: '#000' }}
            height={25}
            tick={bottomTick({ label: (v) => String(v), fontSize: TICK_FS, dy: 21, len: 5 })}
          />
          <XAxis
            xAxisId="top"
            orientation="top"
            type="number"
            domain={[0, 300]}
            allowDataOverflow
            ticks={timeTicks}
            interval={0}
            tickSize={0}
            tickMargin={0}
            tickLine={false}
            axisLine={{ stroke: '#000' }}
            height={0}
            tick={topTick({ len: 5 })}
          />
          <YAxis
            type="number"
            domain={[-0.5, 6.5]}
            allowDataOverflow
            ticks={outTicks}
            interval={0}
            width={57}
            tickSize={0}
            tickMargin={0}
            tickLine={false}
            axisLine={{ stroke: '#000' }}
            tick={leftTick({ label: (v) => String(v), fontSize: TICK_FS, dx: 5, dy: 5 })}
            label={yLabel('measured output', 34, 14)}
          />
          <YAxis
            yAxisId="right"
            orientation="right"
            type="number"
            domain={[-0.5, 6.5]}
            allowDataOverflow
            ticks={outTicks}
            interval={0}
            width={0}
            tickSize={0}
            tickMargin={0}
            tickLine={false}
            axisLine={{ stroke: '#000' }}
            tick={rightTick({})}
          />
          <ReferenceLine y={refLevel} stroke={CYAN} strokeWidth={2} />
          <Line type="linear" dataKey="c3" stroke={RED} strokeWidth={2} dot={false} isAnimationActive={false} />
          <Line type="linear" dataKey="c2" stroke={GREEN} strokeWidth={2} dot={false} isAnimationActive={false} />
          <Line type="linear" dataKey="c1" stroke={BLUE} strokeWidth={2} dot={false} isAnimationActive={false} />
          <Legend
            layout="vertical"
            align="center"
            verticalAlign="middle"
            content={() => <SimLegendBox />}
            wrapperStyle={{ left: 499, top: 86, width: 122, height: 104 }}
          />
        </LineChart>
      </div>

      {/* ---- (b) bottom: control signal ---- */}
      <div style={{ position: 'absolute', left: 0, top: 700 }}>
        <LineChart width={641} height={243} data={ctrlData} margin={{ top: 23, right: 13, bottom: 0, left: 0 }}>
          <CartesianGrid stroke={GRID} strokeDasharray="1 3" />
          <XAxis
            dataKey="t"
            type="number"
            domain={[0, 300]}
            allowDataOverflow
            ticks={timeTicks}
            interval={0}
            tickSize={0}
            tickMargin={0}
            tickLine={false}
            axisLine={{ stroke: '#000' }}
            height={40}
            tick={bottomTick({ label: (v) => String(v), fontSize: TICK_FS, dy: 14, len: 5 })}
            label={(props: any) => {
              const vb = props.viewBox;
              const cx = vb.x + vb.width / 2;
              return (
                <text x={cx} y={vb.y + 31} textAnchor="middle" fontSize={13} fontFamily={FONT} fill="#000">
                  Time [min]
                </text>
              );
            }}
          />
          <XAxis
            xAxisId="top"
            orientation="top"
            type="number"
            domain={[0, 300]}
            allowDataOverflow
            ticks={timeTicks}
            interval={0}
            tickSize={0}
            tickMargin={0}
            tickLine={false}
            axisLine={{ stroke: '#000' }}
            height={0}
            tick={topTick({ len: 5 })}
          />
          <YAxis
            type="number"
            domain={[-0.2, 1.06]}
            allowDataOverflow
            ticks={ctrlTicks}
            interval={0}
            width={57}
            tickSize={0}
            tickMargin={0}
            tickLine={false}
            axisLine={{ stroke: '#000' }}
            tick={leftTick({ label: (v) => String(v), fontSize: TICK_FS, dx: 5, dy: 5 })}
            label={yLabel('control signal', 22, 14)}
          />
          <YAxis
            yAxisId="right"
            orientation="right"
            type="number"
            domain={[-0.2, 1.06]}
            allowDataOverflow
            ticks={ctrlTicks}
            interval={0}
            width={0}
            tickSize={0}
            tickMargin={0}
            tickLine={false}
            axisLine={{ stroke: '#000' }}
            tick={rightTick({})}
          />
          <Line type="linear" dataKey="c3" stroke={RED} strokeWidth={2} dot={false} isAnimationActive={false} />
          <Line type="linear" dataKey="c2" stroke={GREEN} strokeWidth={2} dot={false} isAnimationActive={false} />
          <Line type="linear" dataKey="c1" stroke={BLUE} strokeWidth={2} dot={false} isAnimationActive={false} />
        </LineChart>
      </div>
      <div
        style={{
          position: 'absolute',
          left: 0,
          top: 951,
          width: 641,
          textAlign: 'center',
          fontFamily: SERIF,
          fontSize: 16,
          lineHeight: '20px',
        }}
      >
        (b) Closed loop simulation
      </div>
    </div>
  );
}
